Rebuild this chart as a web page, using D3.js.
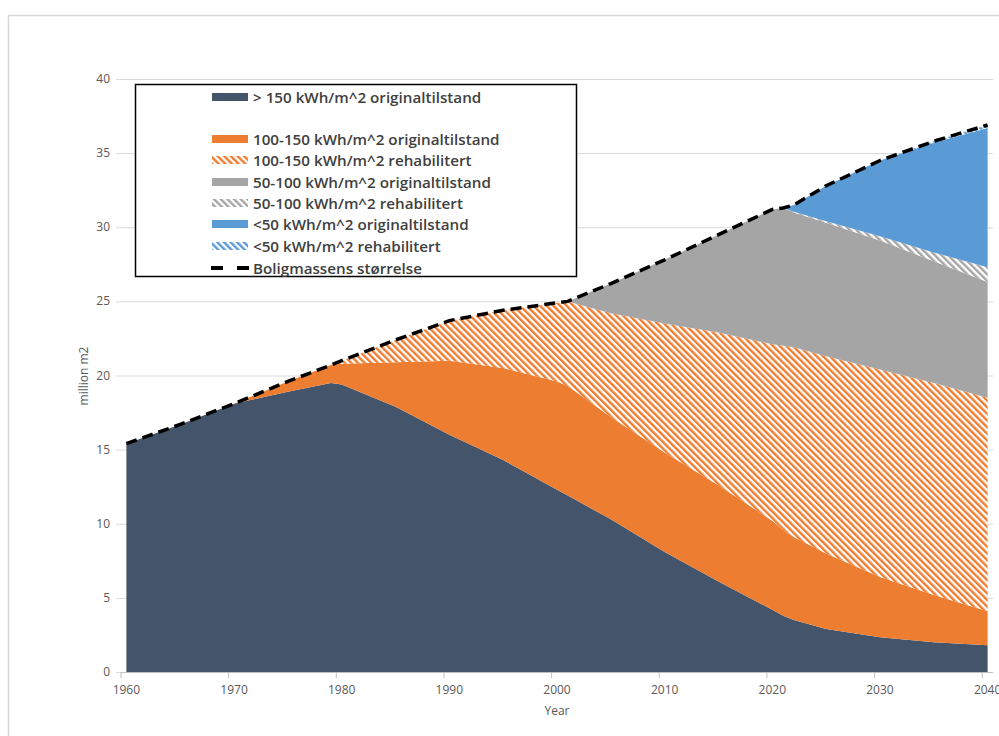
<!DOCTYPE html>
<html><head><meta charset="utf-8">
<script src="https://cdn.jsdelivr.net/npm/d3@7"></script>
<style>body{margin:0;background:#fff;} svg{display:block;}</style>
</head><body>
<svg id="c" width="999" height="736"></svg>
<script>
// ---- data ----
const years = [1960,1965,1970,1975,1979,1980,1985,1990,1995,2000,2001,2005,2010,2015,2020,2021,2022,2025,2030,2035,2040];
const over150Orig  = [15.4,16.7,18.1,18.9,19.5,19.4,17.9,16.0,14.3,12.3,11.9,10.3,8.1,6.1,4.2,3.8,3.5,2.9,2.35,2.0,1.8];
const r100to150Orig  = [0,0,0,0.7,1.2,1.4,3.0,5.0,6.2,7.3,7.4,6.9,6.7,6.5,6.0,5.8,5.6,5.1,4.05,3.2,2.3];
const r100to150Rehab = [0,0,0,0,0,0.2,1.5,2.7,3.9,5.3,5.7,7.0,8.7,10.3,11.9,12.4,12.8,13.3,14.0,14.3,14.4];
const r50to100Orig   = [0,0,0,0,0,0,0,0,0,0,0,2.0,4.3,6.6,9.1,9.3,9.1,9.0,8.7,8.2,7.8];
const r50to100Rehab  = [0,0,0,0,0,0,0,0,0,0,0,0,0,0,0,0,0.05,0.1,0.3,0.6,1.0];
const under50Orig    = [0,0,0,0,0,0,0,0,0,0,0,0,0,0,0,0,0.45,2.4,5.1,7.4,9.4];
const under50Rehab   = [0,0,0,0,0,0,0,0,0,0,0,0,0,0,0,0,0,0,0,0.1,0.2];
const totalStock     = [15.4,16.7,18.1,19.6,20.7,21.0,22.4,23.7,24.4,24.9,25.0,26.2,27.8,29.5,31.2,31.3,31.5,32.8,34.5,35.8,36.9];
const yTicks = [0,5,10,15,20,25,30,35,40];
const xTicks = [1960,1970,1980,1990,2000,2010,2020,2030,2040];
const seriesNames = ["> 150 kWh/m^2 originaltilstand","100-150 kWh/m^2 originaltilstand","100-150 kWh/m^2 rehabilitert",
  "50-100 kWh/m^2 originaltilstand","50-100 kWh/m^2 rehabilitert","<50 kWh/m^2 originaltilstand","<50 kWh/m^2 rehabilitert"];
const lineName = "Boligmassens størrelse";

const seriesArrays = [over150Orig,r100to150Orig,r100to150Rehab,r50to100Orig,r50to100Rehab,under50Orig,under50Rehab];
const colors = ["#44546A","#ED7D31","#ED7D31","#A5A5A5","#A5A5A5","#5B9BD5","#5B9BD5"];
const hatched = [false,false,true,false,true,false,true];

const table = years.map((y,i)=>{const o={year:y}; seriesNames.forEach((n,k)=>o[n]=seriesArrays[k][i]); return o;});

const svg = d3.select("#c");
const x = d3.scaleLinear().domain([1960,2041]).range([121,993]);
const y = d3.scaleLinear().domain([0,40]).range([672,79]);
const fontF = "'Open Sans', 'DejaVu Sans', sans-serif";

// outer frame
svg.append("rect").attr("x",8.5).attr("y",15.5).attr("width",1000).attr("height",740)
  .attr("fill","#fff").attr("stroke","#D9D9D9").attr("stroke-width",1.5);

// patterns
const defs = svg.append("defs");
colors.forEach((c,k)=>{
  if(!hatched[k]) return;
  const p = defs.append("pattern").attr("id","hatch"+k).attr("patternUnits","userSpaceOnUse")
    .attr("width",4.7).attr("height",4.7).attr("patternTransform","rotate(-45)");
  p.append("rect").attr("width",4.7).attr("height",4.7).attr("fill","#fff");
  p.append("rect").attr("width",2.4).attr("height",4.7).attr("fill",c);
});
const fillOf = k => hatched[k] ? `url(#hatch${k})` : colors[k];

// gridlines
svg.append("g").selectAll("line").data(yTicks).join("line")
  .attr("x1",116).attr("x2",993).attr("y1",d=>y(d)+0.5).attr("y2",d=>y(d)+0.5)
  .attr("stroke","#D9D9D9").attr("stroke-width",1);

// areas
const stack = d3.stack().keys(seriesNames);
const stacked = stack(table);
const area = d3.area().x(d=>x(d.data.year+0.5)).y0(d=>y(d[0])).y1(d=>y(d[1]));
svg.append("g").selectAll("path").data(stacked).join("path")
  .attr("d",area).attr("fill",(d,k)=>fillOf(k));

// x axis
const xa = svg.append("g");
xa.append("line").attr("x1",121).attr("x2",993).attr("y1",672.5).attr("y2",672.5).attr("stroke","#BFBFBF");
xa.selectAll("line.t").data(xTicks).join("line").attr("class","t")
  .attr("x1",d=>x(d)).attr("x2",d=>x(d)).attr("y1",672).attr("y2",678).attr("stroke","#BFBFBF");
xa.selectAll("text").data(xTicks).join("text")
  .attr("x",d=>x(d+0.5)).attr("y",694).attr("text-anchor","middle")
  .attr("font-family",fontF).attr("font-size",12).attr("fill","#595959").text(d=>d);

// y axis labels
svg.append("g").selectAll("text").data(yTicks).join("text")
  .attr("x",110).attr("y",d=>y(d)+4).attr("text-anchor","end")
  .attr("font-family",fontF).attr("font-size",12).attr("fill","#595959").text(d=>d);

// axis titles
svg.append("text").attr("transform","translate(88,376) rotate(-90)").attr("text-anchor","middle")
  .attr("font-family",fontF).attr("font-size",12).attr("fill","#595959").text("million m2");
svg.append("text").attr("x",557).attr("y",715).attr("text-anchor","middle")
  .attr("font-family",fontF).attr("font-size",12).attr("fill","#595959").text("Year");

// total line
const line = d3.line().x((d,i)=>x(years[i]+0.5)).y(d=>y(d));
svg.append("path").datum(totalStock).attr("d",line).attr("fill","none")
  .attr("stroke","#000").attr("stroke-width",3.5).attr("stroke-dasharray","11,6");

// legend
const lg = svg.append("g");
lg.append("rect").attr("x",135.5).attr("y",84.5).attr("width",441).attr("height",192)
  .attr("fill","#fff").attr("stroke","#000").attr("stroke-width",1.5);
const rowsY = [97,139,160,182,203,224,246];
seriesNames.forEach((n,k)=>{
  lg.append("rect").attr("x",212).attr("y",rowsY[k]-4).attr("width",36).attr("height",8).attr("fill",fillOf(k));
  lg.append("text").attr("x",253).attr("y",rowsY[k]+5.5).attr("font-family",fontF).attr("font-weight",600)
    .attr("font-size",15.2).attr("fill","#404040").text(n);
});
lg.append("line").attr("x1",211).attr("x2",249).attr("y1",268).attr("y2",268).attr("stroke","#000")
  .attr("stroke-width",4).attr("stroke-dasharray","12,14");
lg.append("text").attr("x",253).attr("y",273.5).attr("font-family",fontF).attr("font-weight",600)
  .attr("font-size",15.2).attr("fill","#404040").text(lineName);
</script>
</body></html>
